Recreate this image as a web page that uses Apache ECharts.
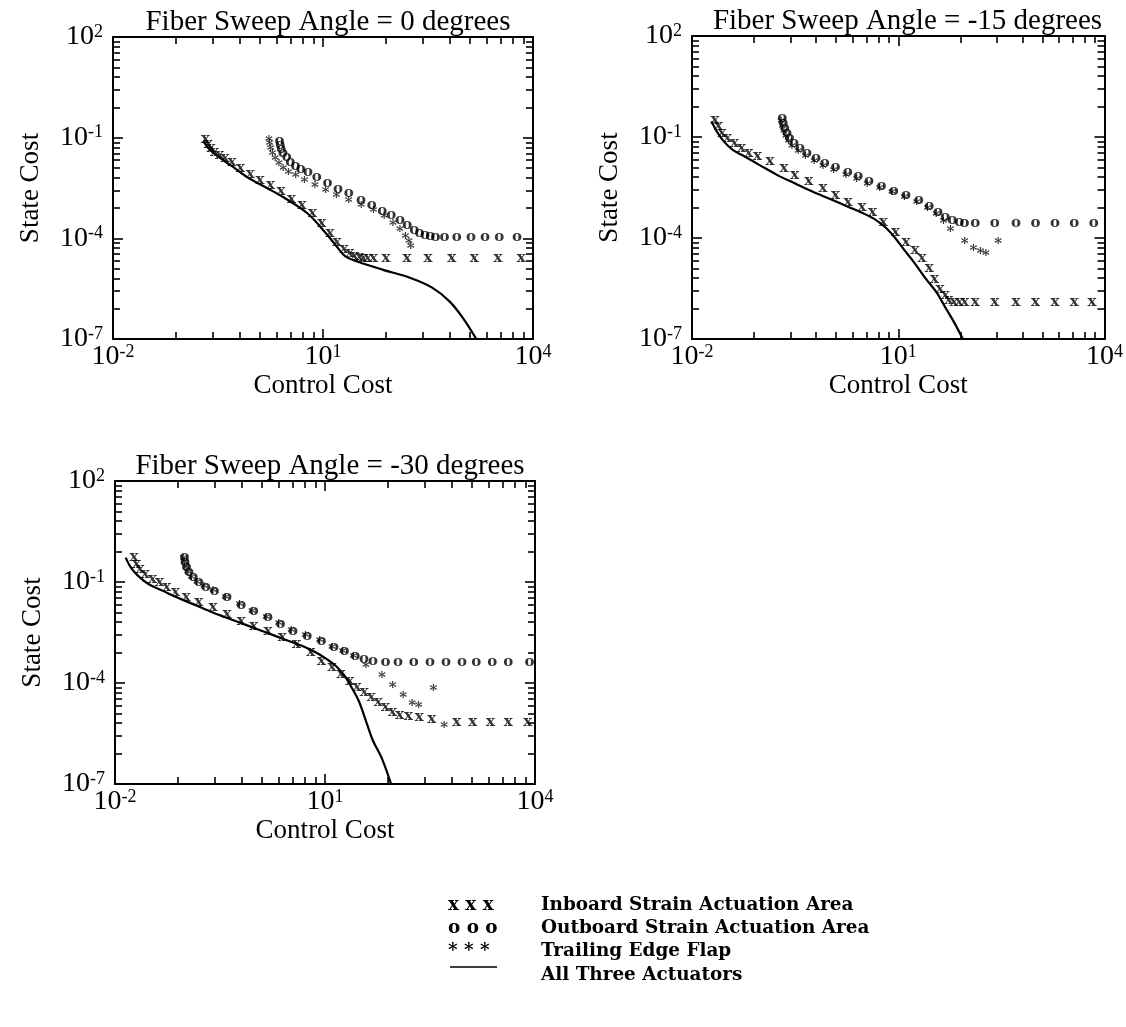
<!DOCTYPE html>
<html>
<head>
<meta charset="utf-8">
<script src="https://cdn.jsdelivr.net/npm/echarts@6/dist/echarts.min.js"></script>
<style>
  html, body { margin: 0; padding: 0; background: #fff; }
  #chart { width: 1126px; height: 1027px; }
</style>
</head>
<body>
<div id="chart"></div>
<script>
// Control cost vs. state cost for three fibre sweep angles
const panelTitles = [
  'Fiber Sweep Angle = 0 degrees',
  'Fiber Sweep Angle = -15 degrees',
  'Fiber Sweep Angle = -30 degrees'
];
const seriesNames = [
  'Inboard Strain Actuation Area',
  'Outboard Strain Actuation Area',
  'Trailing Edge Flap',
  'All Three Actuators'
];
const markerGlyphs = ['x', 'o', '*'];
const legendGlyphs = ['x x x', 'o o o', '* * *'];
const xAxisName = 'Control Cost';
const yAxisName = 'State Cost';

// tick values: labelled decades plus the k^3 subdivisions between them
const xMajorTicks = [1e-2, 1e1, 1e4];
const xMinorTicks = [8e-2, 2.7e-1, 6.4e-1, 1.25, 2.16, 3.43, 5.12, 7.29,
                     8e1, 2.7e2, 6.4e2, 1.25e3, 2.16e3, 3.43e3, 5.12e3, 7.29e3];
const yMajorTicks = [1e-7, 1e-4, 1e-1, 1e2];
const yMinorTicks = [8e-7, 2.7e-6, 6.4e-6, 1.25e-5, 2.16e-5, 3.43e-5, 5.12e-5, 7.29e-5,
                     8e-4, 2.7e-3, 6.4e-3, 1.25e-2, 2.16e-2, 3.43e-2, 5.12e-2, 7.29e-2,
                     8e-1, 2.7, 6.4, 12.5, 21.6, 34.3, 51.2, 72.9];

// ---- sweep angle 0 deg ----
const inboard0 = [
  [0.209, 0.0891], [0.229, 0.0661], [0.251, 0.0501], [0.282, 0.038], [0.331, 0.0302],
  [0.398, 0.024], [0.501, 0.0182], [0.661, 0.0126], [0.912, 0.00832], [1.26, 0.00562],
  [1.78, 0.0038], [2.51, 0.00251], [3.55, 0.00151], [5.01, 9.55e-4], [7.08, 5.62e-4],
  [9.55, 2.82e-4], [12.6, 1.41e-4], [15.8, 7.94e-5], [20.0, 4.79e-5], [24.0, 3.55e-5],
  [28.2, 3.02e-5], [33.1, 2.75e-5], [38.0, 2.63e-5], [43.7, 2.57e-5], [52.5, 2.51e-5],
  [79.4, 2.51e-5], [158, 2.51e-5], [316, 2.51e-5], [692, 2.51e-5], [1445, 2.51e-5],
  [3162, 2.51e-5], [6761, 2.51e-5]
];
const outboard0 = [
  [2.40, 0.080], [2.45, 0.061], [2.54, 0.0454], [2.69, 0.0338], [3.03, 0.0258],
  [3.40, 0.0192], [4.06, 0.0146], [4.83, 0.0117], [6.10, 0.0093], [8.15, 0.00662],
  [11.6, 0.00441], [16.4, 0.0030], [23.3, 0.00223], [35.0, 0.00136], [49.7, 9.66e-4],
  [70.5, 6.58e-4], [94.4, 4.9e-4], [126, 3.49e-4], [160, 2.48e-4], [201, 1.77e-4],
  [240, 1.41e-4], [286, 1.23e-4], [340, 1.15e-4], [406, 1.12e-4], [542, 1.12e-4],
  [815, 1.12e-4], [1300, 1.12e-4], [2070, 1.12e-4], [3300, 1.12e-4], [5920, 1.12e-4]
];
const flap0 = [
  [1.69, 0.0957], [1.73, 0.0713], [1.79, 0.0508], [1.90, 0.0362], [2.08, 0.0258],
  [2.34, 0.0184], [2.69, 0.0137], [3.21, 0.0104], [4.06, 0.00794], [5.42, 0.00592],
  [7.69, 0.00421], [10.9, 0.0030], [15.5, 0.00213], [23.3, 0.00152], [35.0, 0.00104],
  [52.7, 7.2e-4], [74.6, 4.9e-4], [100, 3.12e-4], [126, 1.98e-4], [150, 1.26e-4],
  [169, 8.98e-5], [179, 6.38e-5]
];
const combined0 = [
  [0.195, 0.0794], [0.240, 0.0447], [0.331, 0.0257], [0.501, 0.0141], [0.832, 0.00661],
  [1.58, 0.00316], [2.69, 0.0017], [6.03, 5.5e-4], [11.0, 1.41e-4], [15.8, 5.6e-5],
  [20.9, 2.9e-5], [30.9, 2.04e-5], [70.8, 1.17e-5], [178, 6.6e-6], [363, 3.4e-6],
  [646, 1.3e-6], [1000, 4.2e-7], [1550, 1.0e-7]
];

// ---- sweep angle -15 deg ----
const inboard15 = [
  [0.0216, 0.327], [0.0243, 0.207], [0.0274, 0.131], [0.0327, 0.0929], [0.0415, 0.0659],
  [0.0526, 0.0468], [0.0667, 0.0332], [0.0897, 0.0264], [0.136, 0.0187], [0.218, 0.0119],
  [0.311, 0.0075], [0.500, 0.00474], [0.804, 0.0030], [1.22, 0.0019], [1.85, 0.0012],
  [2.96, 8.51e-4], [4.23, 6.04e-4], [6.04, 3.04e-4], [9.14, 1.53e-4], [13.0, 7.7e-5],
  [17.5, 4.35e-5], [22.2, 2.45e-5], [28.2, 1.24e-5], [33.7, 6.21e-6], [40.3, 3.13e-6],
  [48.1, 1.98e-6], [54.1, 1.40e-6], [64.7, 1.25e-6], [77.3, 1.25e-6], [92.3, 1.25e-6],
  [132, 1.25e-6], [253, 1.25e-6], [515, 1.25e-6], [989, 1.25e-6], [1900, 1.25e-6],
  [3640, 1.25e-6], [6590, 1.25e-6]
];
const outboard15 = [
  [0.206, 0.367], [0.213, 0.261], [0.224, 0.185], [0.240, 0.131], [0.261, 0.0929],
  [0.304, 0.0659], [0.372, 0.0468], [0.472, 0.0332], [0.634, 0.0236], [0.853, 0.0167],
  [1.22, 0.0124], [1.85, 0.0090], [2.63, 0.00668], [3.76, 0.00474], [5.69, 0.00337],
  [8.61, 0.0025], [13.0, 0.0019], [19.8, 0.00135], [28.2, 9.12e-4], [37.9, 6.04e-4],
  [48.1, 4.29e-4], [61.0, 3.41e-4], [77.3, 2.9e-4], [92.3, 2.71e-4], [132, 2.71e-4],
  [253, 2.71e-4], [515, 2.71e-4], [989, 2.71e-4], [1900, 2.71e-4], [3640, 2.71e-4],
  [7000, 2.71e-4]
];
const flap15 = [
  [0.199, 0.327], [0.206, 0.232], [0.218, 0.165], [0.232, 0.117], [0.252, 0.0828],
  [0.283, 0.0588], [0.351, 0.0417], [0.445, 0.0296], [0.597, 0.021], [0.804, 0.0149],
  [1.15, 0.0111], [1.74, 0.00804], [2.48, 0.00596], [3.54, 0.00423], [5.36, 0.00314],
  [8.11, 0.00239], [12.3, 0.00177], [18.6, 0.00126], [26.5, 8.51e-4], [35.7, 5.4e-4],
  [45.3, 3.41e-4], [57.4, 1.92e-4], [92.3, 8.63e-5], [124, 5.47e-5], [157, 4.35e-5],
  [188, 3.87e-5], [284, 8.63e-5]
];
const combined15 = [
  [0.0192, 0.292], [0.0229, 0.147], [0.0290, 0.074], [0.0391, 0.0417], [0.0526, 0.0296],
  [0.0951, 0.0149], [0.172, 0.0075], [0.311, 0.00423], [0.563, 0.00239], [1.02, 0.00144],
  [1.85, 8.51e-4], [3.33, 5.03e-4], [4.76, 3.41e-4], [6.79, 1.92e-4], [9.14, 9.68e-5],
  [12.3, 4.35e-5], [17.5, 1.74e-5], [25.1, 6.21e-6], [35.7, 2.49e-6], [48.1, 8.87e-7],
  [64.7, 3.17e-7], [86.9, 1.01e-7]
];

// ---- sweep angle -30 deg ----
const inboard30 = [
  [0.0186, 0.531], [0.0202, 0.337], [0.0227, 0.239], [0.0271, 0.170], [0.0342, 0.121],
  [0.0432, 0.0962], [0.0546, 0.0684], [0.0731, 0.0485], [0.104, 0.0345], [0.157, 0.0245],
  [0.250, 0.0174], [0.399, 0.011], [0.638, 0.00701], [0.962, 0.00498], [1.53, 0.00354],
  [2.45, 0.00224], [3.92, 0.00142], [6.25, 8.05e-4], [8.89, 4.56e-4], [12.6, 2.89e-4],
  [16.9, 1.83e-4], [22.6, 1.16e-4], [28.6, 7.37e-5], [36.2, 5.24e-5], [45.7, 3.72e-5],
  [57.8, 2.64e-5], [73.1, 1.88e-5], [92.3, 1.34e-5], [117, 1.14e-5], [156, 1.02e-5],
  [222, 9.49e-6], [335, 8.47e-6], [760, 6.75e-6], [1290, 6.75e-6], [2310, 6.75e-6],
  [4150, 6.75e-6], [7890, 6.75e-6]
];
const outboard30 = [
  [0.098, 0.531], [0.100, 0.377], [0.105, 0.268], [0.114, 0.191], [0.131, 0.136],
  [0.157, 0.0962], [0.198, 0.0716], [0.265, 0.052], [0.399, 0.0345], [0.638, 0.0209],
  [0.962, 0.0133], [1.53, 0.00881], [2.31, 0.00558], [3.48, 0.00354], [5.56, 0.00252],
  [8.89, 0.00179], [13.4, 0.00113], [19.0, 8.63e-4], [27.0, 6.41e-4], [36.2, 5.1e-4],
  [48.5, 4.56e-4], [73.1, 4.06e-4], [110, 4.06e-4], [186, 4.06e-4], [316, 4.06e-4],
  [535, 4.06e-4], [906, 4.06e-4], [1450, 4.06e-4], [2450, 4.06e-4], [4150, 4.06e-4],
  [8380, 4.06e-4]
];
const flap30 = [
  [0.0957, 0.556], [0.098, 0.423], [0.104, 0.301], [0.110, 0.213], [0.124, 0.152],
  [0.148, 0.108], [0.187, 0.0802], [0.250, 0.061], [0.377, 0.0387], [0.601, 0.0229],
  [0.906, 0.0145], [1.45, 0.00964], [2.18, 0.00625], [3.29, 0.00396], [5.25, 0.00282],
  [8.38, 0.00196], [12.6, 0.00127], [17.9, 9.44e-4], [25.5, 6.87e-4], [38.4, 3.63e-4],
  [65.0, 1.83e-4], [92.5, 9.25e-5], [131, 4.68e-5], [176, 2.64e-5], [217, 2.36e-5],
  [355, 7.37e-5], [505, 6.01e-6]
];
const combined30 = [
  [0.0142, 0.531], [0.0169, 0.268], [0.0214, 0.152], [0.0304, 0.0859], [0.0485, 0.0545],
  [0.0776, 0.0345], [0.139, 0.0209], [0.250, 0.0124], [0.449, 0.00785], [0.805, 0.00498],
  [1.45, 0.00315], [2.60, 0.0020], [4.67, 0.00127], [7.45, 8.05e-4], [10.6, 5.1e-4],
  [14.2, 3.24e-4], [19.0, 1.64e-4], [24.0, 7.37e-5], [30.3, 2.96e-5], [38.4, 7.55e-6],
  [48.5, 1.93e-6], [64.0, 6.17e-7], [88.0, 1.0e-7]
];

const panels = [
  { title: panelTitles[0], series: [inboard0, outboard0, flap0], line: combined0 },
  { title: panelTitles[1], series: [inboard15, outboard15, flap15], line: combined15 },
  { title: panelTitles[2], series: [inboard30, outboard30, flap30], line: combined30 }
];

// ---- layout and styling ----
const gridBoxes = [
  { left: 113, top: 37, width: 420, height: 302 },
  { left: 692, top: 36, width: 421, height: 303 },
  { left: 115, top: 481, width: 420, height: 303 }
];
const serif = 'Liberation Serif';
const markerFont = 'DejaVu Serif';
const legendFont = 'bold 18.4px "DejaVu Serif"';
const ink = '#000';

const supRich = {
  b: { fontFamily: serif, fontSize: 28, color: ink },
  s: { fontFamily: serif, fontSize: 18, color: ink, verticalAlign: 'top' }
};
const powerLabel = v => '{b|10}{s|' + Math.round(Math.log10(v)) + '}';

function makeAxis(kind, gridIndex, position, ticks, tickLen, withLine, withLabel) {
  const isX = kind === 'x';
  const axis = {
    type: 'log',
    logBase: 10,
    gridIndex: gridIndex,
    position: position,
    min: isX ? 1e-2 : 1e-7,
    max: isX ? 1e4 : 1e2,
    axisLine: { show: withLine, onZero: false, lineStyle: { color: ink, width: 2 } },
    axisTick: { show: true, inside: true, length: tickLen, customValues: ticks,
                lineStyle: { color: ink, width: 1.6 } },
    axisLabel: { show: withLabel },
    splitLine: { show: false },
    minorTick: { show: false },
    minorSplitLine: { show: false }
  };
  if (withLabel) {
    axis.axisLabel = {
      show: true, customValues: ticks, formatter: powerLabel, rich: supRich,
      margin: isX ? 4 : 10
    };
    axis.name = isX ? xAxisName : yAxisName;
    axis.nameLocation = 'middle';
    axis.nameGap = isX ? 33 : 69;
    axis.nameTextStyle = { fontFamily: serif, fontSize: 27, color: ink };
  }
  return axis;
}

const xAxes = [], yAxes = [], grids = [], titles = [], series = [];
panels.forEach((p, g) => {
  const box = gridBoxes[g];
  grids.push(Object.assign({ containLabel: false }, box));
  titles.push({
    text: p.title, left: box.left + box.width / 2, top: box.top - 34, textAlign: 'center',
    textStyle: { fontFamily: serif, fontSize: 29, fontWeight: 'normal', color: ink }
  });
  const xi = xAxes.length, yi = yAxes.length;
  xAxes.push(makeAxis('x', g, 'bottom', xMajorTicks, 10, true, true));
  xAxes.push(makeAxis('x', g, 'bottom', xMinorTicks, 7, false, false));
  xAxes.push(makeAxis('x', g, 'top', xMajorTicks, 10, true, false));
  xAxes.push(makeAxis('x', g, 'top', xMinorTicks, 7, false, false));
  yAxes.push(makeAxis('y', g, 'left', yMajorTicks, 10, true, true));
  yAxes.push(makeAxis('y', g, 'left', yMinorTicks, 7, false, false));
  yAxes.push(makeAxis('y', g, 'right', yMajorTicks, 10, true, false));
  yAxes.push(makeAxis('y', g, 'right', yMinorTicks, 7, false, false));

  series.push({
    name: seriesNames[3], type: 'line', xAxisIndex: xi, yAxisIndex: yi,
    data: p.line, smooth: 0.35, symbol: 'none', clip: true,
    lineStyle: { color: ink, width: 2.2 }, z: 2
  });
  p.series.forEach((data, k) => {
    series.push({
      name: seriesNames[k], type: 'scatter', xAxisIndex: xi, yAxisIndex: yi,
      data: data, symbol: 'circle', symbolSize: 1,
      itemStyle: { color: 'rgba(0,0,0,0)' },
      label: {
        show: true, position: 'inside', formatter: markerGlyphs[k],
        fontFamily: markerFont, fontWeight: 'bold', fontSize: 15, color: ink,
        offset: k === 2 ? [0, 4] : [0, 0]
      },
      z: 3
    });
  });
});

// legend block drawn as text rows under the panels
const legendRows = [905, 928, 951, 975];
const legendGraphics = [];
seriesNames.forEach((name, i) => {
  if (i < 3) {
    legendGraphics.push({
      type: 'text', left: 448, top: legendRows[i] - 9,
      style: { text: legendGlyphs[i], font: legendFont, fill: ink }
    });
  } else {
    legendGraphics.push({
      type: 'line', shape: { x1: 450, y1: legendRows[i] - 8, x2: 497, y2: legendRows[i] - 8 },
      style: { stroke: ink, lineWidth: 1.5 }
    });
  }
  legendGraphics.push({
    type: 'text', left: 541, top: legendRows[i] - 9,
    style: { text: name, font: legendFont, fill: ink }
  });
});

const chart = echarts.init(document.getElementById('chart'), null, { renderer: 'canvas' });
chart.setOption({
  animation: false,
  backgroundColor: '#fff',
  title: titles,
  grid: grids,
  xAxis: xAxes,
  yAxis: yAxes,
  series: series,
  graphic: legendGraphics
});
</script>
</body>
</html>
